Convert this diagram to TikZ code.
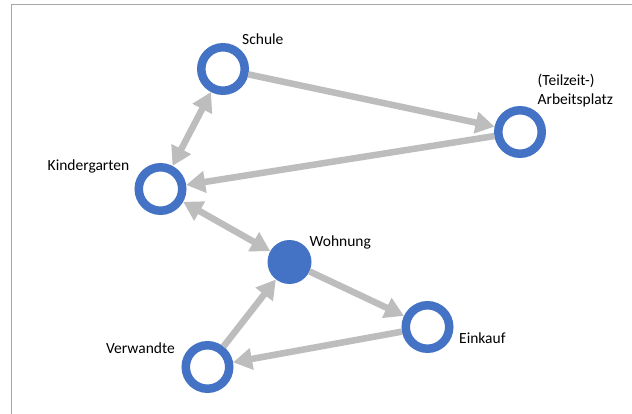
\documentclass[tikz,border=0pt]{standalone}
\usepackage{fontspec}
\setmainfont{Carlito}
\usepackage{tikz}
\usetikzlibrary{arrows.meta}
\usetikzlibrary{positioning}
\definecolor{ringblue}{HTML}{4472C4}
\definecolor{linkgray}{HTML}{BDBDBD}
\definecolor{framegray}{HTML}{A6A6A6}
\tikzset{place/.style={draw=ringblue, shape=circle, line width=8.5pt, fill=white, minimum size=43.5pt, inner sep=0pt}}
\tikzset{home/.style={fill=ringblue, shape=circle, minimum size=44pt, inner sep=0pt}}
\tikzset{tag/.style={anchor=base west, inner sep=0pt, font=\fontsize{15.5}{18}\selectfont}}
\tikzset{link/.style={draw=linkgray, line width=6.5pt, -{Triangle[length=19pt, width=21pt]}}}
\tikzset{twolink/.style={link, {Triangle[length=19pt, width=21pt]}-{Triangle[length=19pt, width=21pt]}}}

\begin{document}
\begin{tikzpicture}[x=1pt, y=-1pt]
	\useasboundingbox (0,0) rectangle (632,414);
	\fill[white] (0,0) rectangle (632,414);

	% frame of the screenshot
	\coordinate (framebottom) at (11.5,414);	\coordinate (framecorner) at (11.5,4.5);	\coordinate (frameright) at (632,4.5);
	\draw[framegray, line width=1.3pt] (framebottom) -- (framecorner) -- (frameright);

	% places
	\node[place] (schule) at (223,69) {};
	\node[place] (arbeit) at (520,132) {};
	\node[place] (kiga) at (160.5,189) {};
	\node[home] (wohnung) at (289.5,262) {};
	\node[place] (einkauf) at (427.5,327) {};
	\node[place] (verwandte) at (207.5,367) {};

	% labels
	\node[tag] (schule tag) at (242,45) {Schule};
	\node[tag] (arbeit tag1) at (537.5,86) {(Teilzeit-)};
	\node[tag] (arbeit tag2) at (537.5,105) {Arbeitsplatz};
	\node[tag] (kiga tag) at (47.5,171) {Kindergarten};
	\node[tag] (wohnung tag) at (309.5,247) {Wohnung};
	\node[tag] (einkauf tag) at (459,343) {Einkauf};
	\node[tag] (verwandte tag) at (106,353) {Verwandte};

	% ways
	\draw[link] (schule) -- (arbeit);
	\draw[link] (arbeit) -- (kiga);
	\draw[twolink] (kiga) -- (schule);
	\draw[twolink] (kiga) -- (wohnung);
	\draw[link] (wohnung) -- (einkauf);
	\draw[link] (einkauf) -- (verwandte);
	\draw[link] (verwandte) -- (wohnung);
\end{tikzpicture}
\end{document}
